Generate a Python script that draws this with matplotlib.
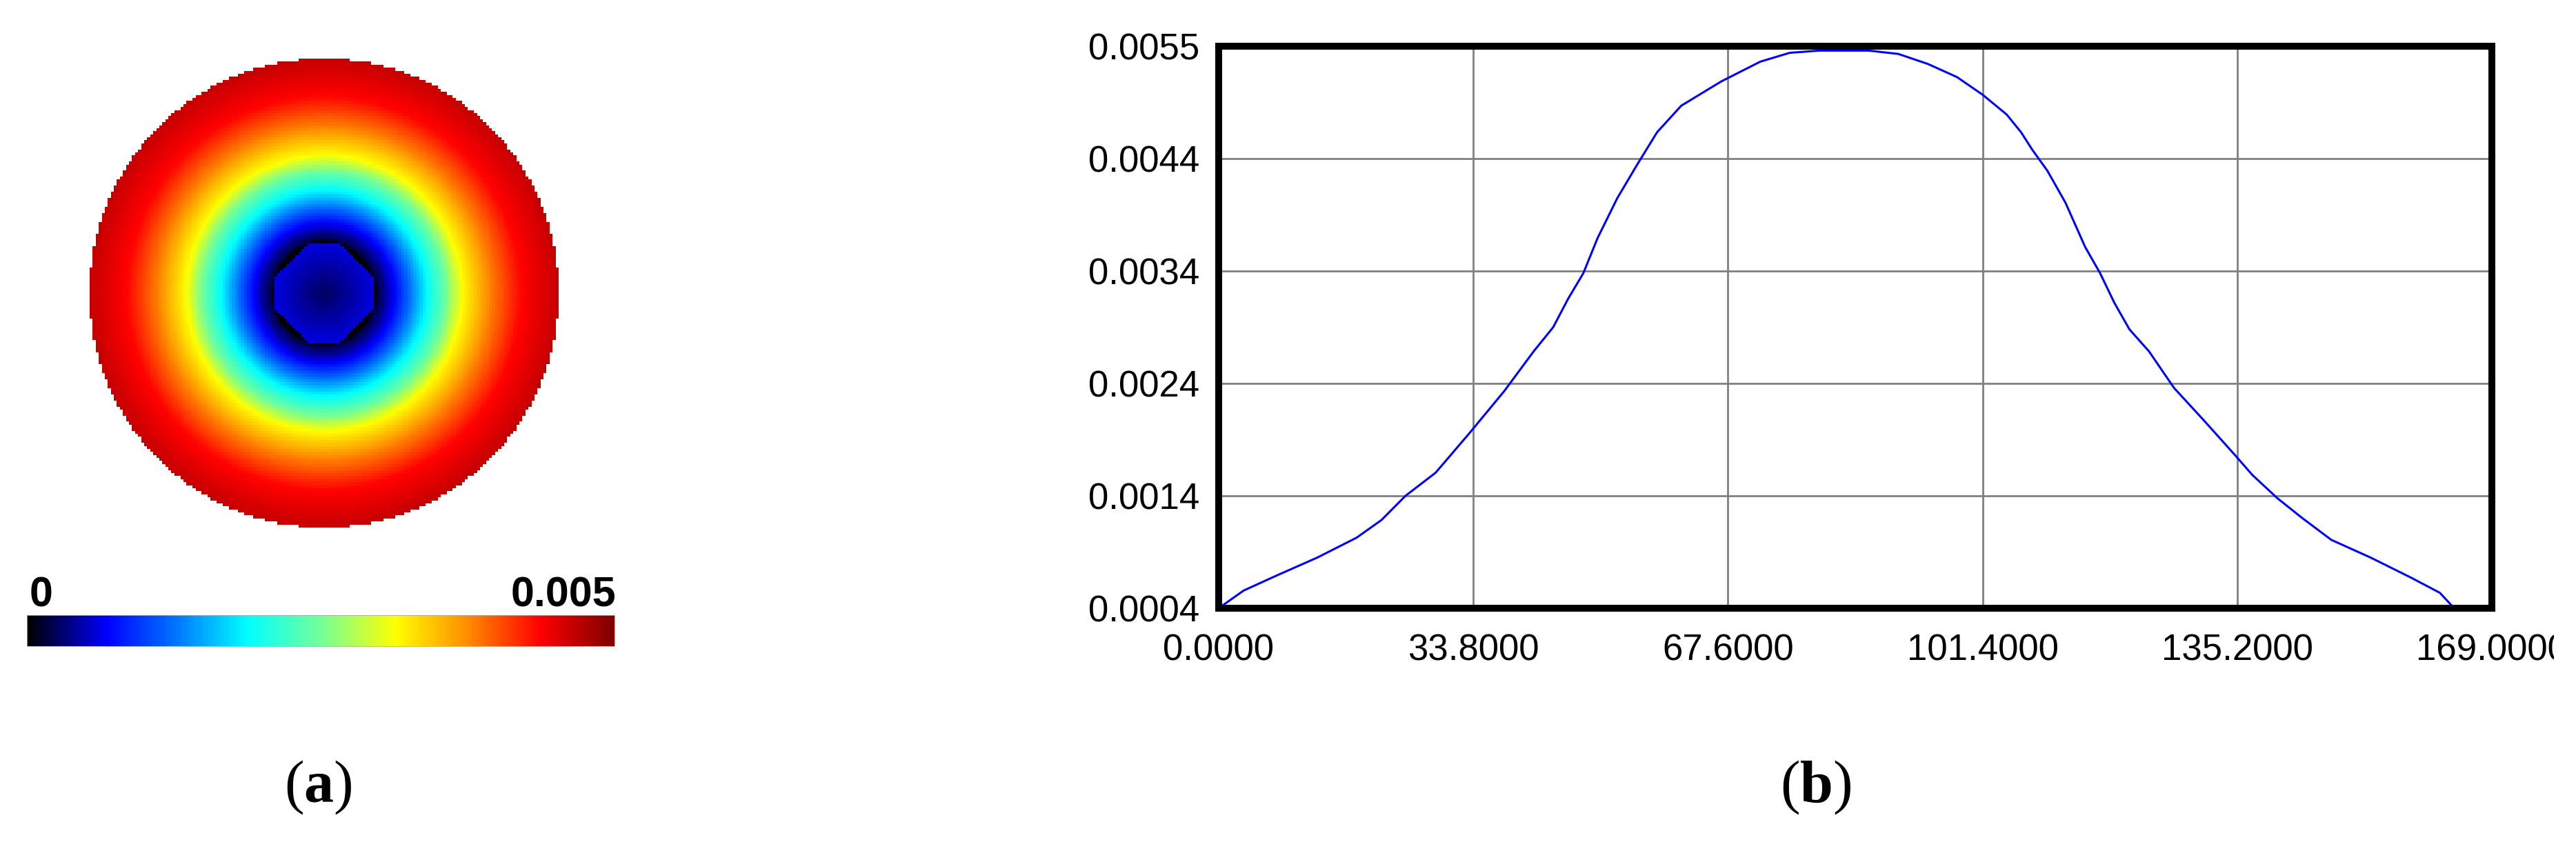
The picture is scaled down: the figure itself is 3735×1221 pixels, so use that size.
import numpy as np
import matplotlib
matplotlib.use('Agg')
import matplotlib.pyplot as plt
from matplotlib.colors import LinearSegmentedColormap, Normalize
from matplotlib.colorbar import Colorbar
from matplotlib.transforms import Bbox, TransformedBbox
from matplotlib import font_manager

# ---- data ----
# (a) radial profile of the disk, r as fraction of disk radius, value in [0, 0.005]
ring_r = [0.215, 0.23, 0.30, 0.44, 0.52, 0.59, 0.71, 0.84, 1.00]
ring_v = [0.0, 0.0002, 0.00068, 0.00188, 0.0025, 0.00315, 0.0038, 0.00435, 0.00465]
core_r = [0.0, 0.21]              # inner octagon
core_v = [0.00026, 0.0006]
cbar_min, cbar_max = 0, 0.005
cbar_labels = ['0', '0.005']

# (b) profile curve
x_pos = [0, 3.3, 7.8, 13.1, 18.3, 21.6, 24.8, 28.8, 33.3, 37.9, 41.8, 44.4, 46.4, 48.4,
         50.3, 52.9, 55.5, 58.2, 61.4, 66.7, 71.9, 75.8, 79.7, 86.3, 90.2, 94.1, 98.0,
         101.4, 104.6, 106.5, 108.0, 110.0, 112.4, 115.0, 117.0, 118.9, 120.9, 123.5,
         126.8, 130.7, 134.9, 137.2, 140.5, 143.8, 147.7, 152.9, 158.2, 162.1, 164.0]
y_val = [0.0004, 0.00056, 0.0007, 0.00086, 0.00104, 0.0012, 0.00142, 0.00163, 0.00199,
         0.00237, 0.00273, 0.00295, 0.00321, 0.00344, 0.00376, 0.00412, 0.00442, 0.00472,
         0.00496, 0.00518, 0.00536, 0.00544, 0.00546, 0.00546, 0.00543, 0.00534, 0.00522,
         0.00506, 0.00488, 0.00472, 0.00456, 0.00437, 0.00408, 0.00368, 0.00344, 0.00317,
         0.00293, 0.00273, 0.0024, 0.00211, 0.00179, 0.00161, 0.0014, 0.00122, 0.00102,
         0.00086, 0.00068, 0.00054, 0.0004]
x_ticks = [0, 33.8, 67.6, 101.4, 135.2, 169]
x_labels = ['0.0000', '33.8000', '67.6000', '101.4000', '135.2000', '169.0000']
y_ticks = np.linspace(0.0004, 0.0055, 6)
y_labels = ['0.0004', '0.0014', '0.0024', '0.0034', '0.0044', '0.0055']

# ---- fonts ----
names = {f.name for f in font_manager.fontManager.ttflist}
narrow = 'Liberation Sans Narrow' if 'Liberation Sans Narrow' in names else 'Liberation Sans'
plt.rcParams['mathtext.fontset'] = 'custom'
plt.rcParams['mathtext.rm'] = 'Liberation Serif'
plt.rcParams['mathtext.bf'] = 'Liberation Serif:bold'

W, H = 3735, 1221
fig = plt.figure(figsize=(W / 100, H / 100), dpi=100)


def rect(x0, y0, x1, y1):
    return [x0 / W, 1 - y1 / H, (x1 - x0) / W, (y1 - y0) / H]


cmap = LinearSegmentedColormap.from_list('disk', [
    (0.0, (0, 0, 0)), (0.135, (0, 0, 1)), (0.25, (0, 0.45, 1)), (0.375, (0, 1, 1)),
    (0.5, (0.45, 1, 0.6)), (0.628, (1, 1, 0)), (0.75, (1, 0.55, 0)),
    (0.874, (1, 0, 0)), (1.0, (0.5, 0, 0))])
norm = Normalize(cbar_min, cbar_max)

# ---- (a) disk ----
ax1 = fig.add_axes(rect(130, 85, 810, 765))
n = 155
c = (np.arange(n) + 0.5) / n * 2 - 1
X, Y = np.meshgrid(c, c)
r = np.hypot(X, Y)
field = np.interp(r, ring_r, ring_v)
oct_r = np.maximum(np.maximum(np.abs(X), np.abs(Y)), (np.abs(X) + np.abs(Y)) / 1.35)
core = oct_r <= 0.21
field[core] = np.interp(r[core], core_r, core_v)
field = np.ma.masked_where(r > 1, field)
ax1.imshow(field, cmap=cmap, norm=norm, extent=[-1, 1, -1, 1], interpolation='nearest')
ax1.axis('off')

cax = fig.add_axes(rect(39, 892, 891, 937))
cb = Colorbar(cax, cmap=cmap, norm=norm, orientation='horizontal')
cb.set_ticks([])
cb.outline.set_linewidth(0.6)
cb.outline.set_edgecolor('#aaaaaa')
fig.text(43 / W, 1 - 879 / H, cbar_labels[0], ha='left', va='baseline',
         family=narrow, fontweight='bold', fontsize=44)
fig.text(893 / W, 1 - 879 / H, cbar_labels[1], ha='right', va='baseline',
         family=narrow, fontweight='bold', fontsize=44)

# ---- (b) curve ----
ax2 = fig.add_axes(rect(1767, 67, 3613, 882))
ax2.plot(x_pos, y_val, color='#0000ff', lw=2.2)
ax2.set_xlim(0, 169)
ax2.set_ylim(0.0004, 0.0055)
ax2.set_xticks(x_ticks)
ax2.set_xticklabels(x_labels)
ax2.set_yticks(y_ticks)
ax2.set_yticklabels(y_labels)
ax2.grid(True, color='#808080', lw=2.0)
ax2.set_axisbelow(True)
for s in ax2.spines.values():
    s.set_linewidth(7.2)
    s.set_color('black')
ax2.tick_params(length=0, labelsize=38, pad=20)
ax2.tick_params(axis='x', pad=26)
for lab in ax2.get_xticklabels() + ax2.get_yticklabels():
    lab.set_family(narrow)
last = ax2.get_xticklabels()[-1]
last.set_clip_box(TransformedBbox(Bbox([[0, 0], [3703 / W, 1]]), fig.transFigure))
last.set_clip_on(True)

# ---- panel captions ----
fig.text(461 / W, 1 - 1142 / H, r'($\mathbf{a}$)', ha='center', va='center',
         family='Liberation Serif', fontsize=62)
fig.text(2633 / W, 1 - 1142 / H, r'($\mathbf{b}$)', ha='center', va='center',
         family='Liberation Serif', fontsize=62)

fig.savefig('out.png', dpi=100, facecolor='white')
